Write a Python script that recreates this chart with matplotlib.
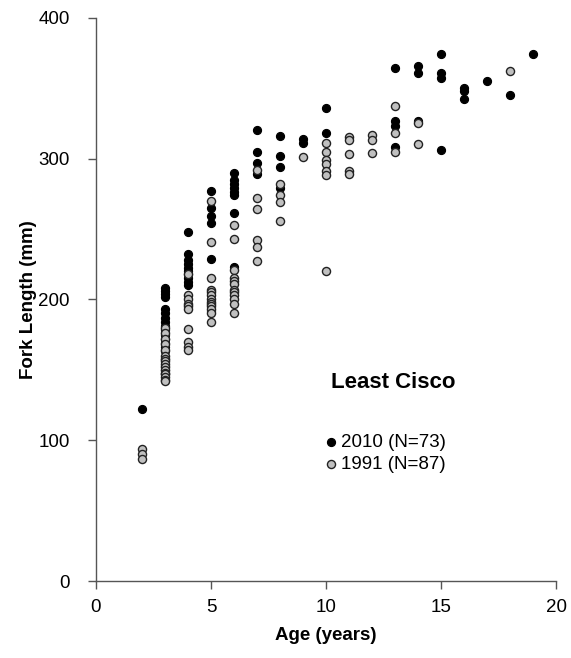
import matplotlib
matplotlib.use("Agg")
import matplotlib.pyplot as plt

plt.rcParams['font.family'] = ['Liberation Sans', 'DejaVu Sans']

# 2010 sample (N=73): age in years, fork length in mm
age_2010 = [2,
            3, 3, 3, 3, 3, 3, 3, 3, 3, 3, 3, 3, 3, 3, 3, 3, 3, 3, 3,
            4, 4, 4, 4, 4, 4, 4, 4, 4, 4,
            5, 5, 5, 5, 5, 5,
            6, 6, 6, 6, 6, 6, 6, 6,
            7, 7, 7, 7,
            8, 8, 8, 8,
            9, 9,
            10, 10,
            13, 13, 13, 13,
            14, 14, 14,
            15, 15, 15, 15,
            16, 16, 16,
            17, 18, 19]
len_2010 = [122,
            208, 206, 204, 202, 193, 190, 187, 184, 181, 178, 175, 172, 169, 166, 163, 158, 153, 150, 147,
            248, 232, 228, 225, 222, 220, 218, 215, 212, 210,
            277, 265, 259, 254, 229, 192,
            290, 285, 282, 279, 276, 274, 261, 223,
            320, 305, 297, 289,
            316, 302, 294, 279,
            314, 311,
            336, 318,
            364, 327, 323, 308,
            366, 361, 327,
            374, 361, 357, 306,
            350, 348, 342,
            355, 345, 374]

# 1991 sample (N=87)
age_1991 = [2, 2, 2,
            3, 3, 3, 3, 3, 3, 3, 3, 3, 3, 3, 3, 3, 3, 3, 3,
            4, 4, 4, 4, 4, 4, 4, 4, 4, 4,
            5, 5, 5, 5, 5, 5, 5, 5, 5, 5, 5, 5, 5,
            6, 6, 6, 6, 6, 6, 6, 6, 6, 6, 6, 6,
            7, 7, 7, 7, 7, 7,
            8, 8, 8, 8,
            9,
            10, 10, 10, 10, 10, 10, 10,
            11, 11, 11, 11, 11,
            12, 12, 12,
            13, 13, 13,
            14, 14,
            18]
len_1991 = [94, 90, 87,
            180, 176, 172, 168, 164, 160, 158, 156, 154, 152, 150, 148, 147, 145, 143, 142,
            203, 200, 197, 195, 193, 179, 170, 166, 164, 218,
            270, 241, 215, 207, 205, 203, 200, 198, 197, 195, 193, 190, 184,
            253, 243, 221, 215, 213, 211, 207, 205, 203, 200, 197, 190,
            292, 272, 264, 242, 237, 227,
            282, 274, 269, 256,
            301,
            311, 305, 299, 296, 291, 288, 220,
            315, 313, 303, 291, 289,
            317, 313, 304,
            337, 318, 305,
            325, 310,
            362]

x_ticks = [0, 5, 10, 15, 20]
y_ticks = [0, 100, 200, 300, 400]

fig = plt.figure(figsize=(5.71, 6.58), dpi=100)
ax = fig.add_axes([0.168, 0.117, 0.806, 0.856])

ax.scatter(age_2010, len_2010, s=34, c='black', edgecolors='black',
           linewidths=0.8, label='2010 (N=73)', zorder=3)
ax.scatter(age_1991, len_1991, s=34, c='#c0c0c0', edgecolors='#222222',
           linewidths=1.0, label='1991 (N=87)', zorder=4)

ax.set_xlim(0, 20)
ax.set_ylim(0, 400)
ax.set_xticks(x_ticks)
ax.set_yticks(y_ticks)
for side in ('top', 'right'):
    ax.spines[side].set_visible(False)
for side in ('left', 'bottom'):
    ax.spines[side].set_color('#555555')
    ax.spines[side].set_linewidth(1.0)
ax.tick_params(axis='y', direction='out', length=6, width=1.0, color='#555555',
               labelsize=13.5, pad=13)
ax.tick_params(axis='x', direction='out', length=6, width=1.0, color='#555555',
               labelsize=13.5, pad=7)

ax.set_xlabel('Age (years)', fontsize=13.5, fontweight='bold', labelpad=8)
ax.set_ylabel('Fork Length (mm)', fontsize=13.5, fontweight='bold', labelpad=1)

ax.text(12.9, 141, 'Least Cisco', fontsize=16, fontweight='bold',
        ha='center', va='center')

ax.legend(loc='upper left', bbox_to_anchor=(0.462, 0.284), frameon=False,
          fontsize=13.5, handletextpad=0.05, labelspacing=0.25,
          borderpad=0.2, handlelength=1.0, scatterpoints=1)

fig.savefig('out.png', dpi=100)
